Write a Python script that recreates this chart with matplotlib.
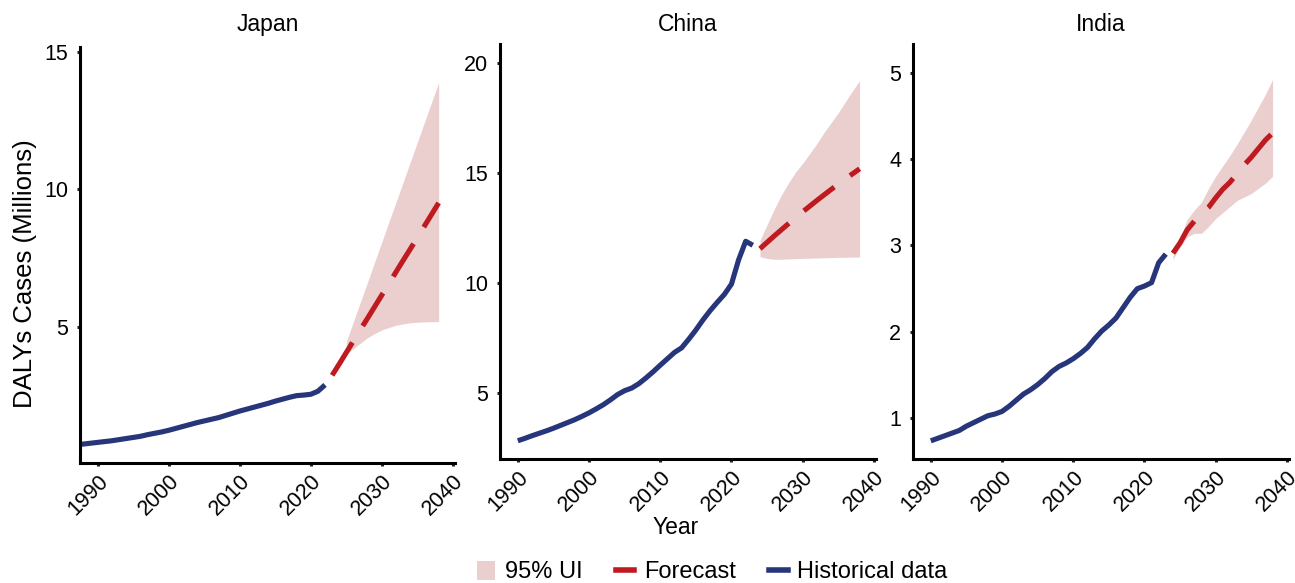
import numpy as np
import matplotlib
matplotlib.use('Agg')
import matplotlib.pyplot as plt
from matplotlib.patches import Patch
from matplotlib.lines import Line2D

plt.rcParams['font.family'] = ['Liberation Sans', 'DejaVu Sans']

# Historical DALYs (millions)
japan_hist_years = list(range(1987, 2023))
japan_hist = [0.70, 0.73, 0.76, 0.79, 0.82, 0.85, 0.89, 0.93, 0.97, 1.01,
              1.07, 1.12, 1.17, 1.23, 1.30, 1.37, 1.44, 1.51, 1.57, 1.63,
              1.69, 1.77, 1.85, 1.93, 2.00, 2.07, 2.14, 2.21, 2.29, 2.36,
              2.43, 2.49, 2.51, 2.54, 2.65, 2.88]

china_hist_years = list(range(1990, 2024))
china_hist = [2.82, 2.93, 3.05, 3.16, 3.27, 3.39, 3.52, 3.65, 3.78, 3.93,
              4.09, 4.27, 4.46, 4.68, 4.92, 5.10, 5.22, 5.42, 5.68, 5.96,
              6.26, 6.55, 6.84, 7.05, 7.44, 7.86, 8.32, 8.74, 9.12, 9.48,
              9.95, 11.05, 11.90, 11.72]

india_hist_years = list(range(1990, 2024))
india_hist = [0.74, 0.77, 0.80, 0.83, 0.86, 0.91, 0.95, 0.99, 1.03, 1.05,
              1.08, 1.14, 1.21, 1.28, 1.33, 1.39, 1.46, 1.54, 1.60, 1.64,
              1.69, 1.75, 1.82, 1.92, 2.01, 2.08, 2.16, 2.28, 2.40, 2.50,
              2.53, 2.57, 2.80, 2.90]

# Forecasts
japan_fc_years = list(range(2023, 2039))
japan_fc = [3.23, 3.64, 4.06, 4.48, 4.90, 5.31, 5.73, 6.15, 6.57, 6.99,
            7.41, 7.82, 8.24, 8.66, 9.08, 9.50]
japan_ui_years = list(range(2025, 2039))
japan_lo = [4.00, 4.20, 4.40, 4.60, 4.75, 4.88, 4.97, 5.05, 5.10, 5.14,
            5.16, 5.17, 5.18, 5.18]
japan_hi = [4.46, 5.18, 5.91, 6.63, 7.36, 8.08, 8.81, 9.53, 10.26, 10.98,
            11.71, 12.43, 13.16, 13.88]

china_fc_years = list(range(2024, 2039))
china_fc = [11.56, 11.85, 12.14, 12.42, 12.70, 12.98, 13.24, 13.50, 13.76,
            14.01, 14.26, 14.50, 14.74, 14.97, 15.20]
china_lo = [11.20, 11.12, 11.08, 11.08, 11.10, 11.11, 11.12, 11.13, 11.14,
            11.15, 11.16, 11.17, 11.17, 11.18, 11.18]
china_hi = [11.94, 12.65, 13.35, 14.00, 14.55, 15.05, 15.45, 15.90, 16.35,
            16.85, 17.30, 17.75, 18.25, 18.75, 19.21]

india_fc_years = list(range(2024, 2039))
india_fc = [2.91, 3.03, 3.18, 3.28, 3.37, 3.44, 3.55, 3.65, 3.73, 3.83,
            3.93, 4.02, 4.12, 4.22, 4.30]
india_lo = [2.84, 2.98, 3.10, 3.14, 3.14, 3.22, 3.31, 3.38, 3.45, 3.52,
            3.56, 3.60, 3.66, 3.72, 3.80]
india_hi = [2.88, 3.08, 3.30, 3.41, 3.50, 3.66, 3.80, 3.92, 4.04, 4.17,
            4.31, 4.45, 4.60, 4.75, 4.92]

blue = '#27357A'
red = '#BE1A20'
band = '#EBCFCF'

panels = [
    dict(name='Japan', rect=[80, 47, 455, 463], ylim=(0.04, 15.17), yticks=[5, 10, 15],
         hy=japan_hist_years, h=japan_hist, fy=japan_fc_years, f=japan_fc,
         uy=japan_ui_years, lo=japan_lo, hi=japan_hi),
    dict(name='China', rect=[500, 44, 876, 459], ylim=(1.99, 20.88), yticks=[5, 10, 15, 20],
         hy=china_hist_years, h=china_hist, fy=china_fc_years, f=china_fc,
         uy=china_fc_years, lo=china_lo, hi=china_hi),
    dict(name='India', rect=[913, 44, 1289, 459], ylim=(0.53, 5.33), yticks=[1, 2, 3, 4, 5],
         hy=india_hist_years, h=india_hist, fy=india_fc_years, f=india_fc,
         uy=india_fc_years, lo=india_lo, hi=india_hi),
]

W, H = 1295, 583
fig = plt.figure(figsize=(W / 100, H / 100), dpi=100)

for p in panels:
    x0, y0, x1, y1 = p['rect']
    ax = fig.add_axes([x0 / W, 1 - y1 / H, (x1 - x0) / W, (y1 - y0) / H])
    ax.fill_between(p['uy'], p['lo'], p['hi'], color=band, linewidth=0)
    ax.plot(p['fy'], p['f'], color=red, lw=3.7, dashes=(7.5, 3.8),
            dash_capstyle='butt')
    ax.plot(p['hy'], p['h'], color=blue, lw=3.7, solid_capstyle='butt')
    ax.set_xlim(1987.5, 2040.3)
    ax.set_ylim(*p['ylim'])
    ax.set_xticks([1990, 2000, 2010, 2020, 2030, 2040])
    ax.set_yticks(p['yticks'])
    for s in ['top', 'right']:
        ax.spines[s].set_visible(False)
    for s in ['left', 'bottom']:
        ax.spines[s].set_linewidth(2.2)
    ax.tick_params(axis='both', length=2.5, width=2.2, labelsize=15.5, color='#222222')
    ax.tick_params(axis='y', pad=6)
    ax.tick_params(axis='x', pad=3)
    for lab in ax.get_xticklabels():
        lab.set_rotation(45)
        lab.set_rotation_mode('anchor')
        lab.set_ha('right')
        lab.set_va('top')
    fig.text((x0 + x1) / 2 / W, 1 - 31 / H, p['name'], ha='center',
             va='baseline', fontsize=16.5)

fig.text(25 / W, 1 - 274 / H, 'DALYs Cases (Millions)', rotation=90,
         ha='center', va='center', fontsize=18.5)
fig.text(676 / W, 1 - 527 / H, 'Year', ha='center', va='center', fontsize=16.5)

handles = [Patch(facecolor=band, edgecolor='none', label='95% UI'),
           Line2D([], [], color=red, lw=4, label='Forecast'),
           Line2D([], [], color=blue, lw=4, label='Historical data')]
fig.legend(handles=handles, loc='center', bbox_to_anchor=(712 / W, 1 - 572 / H),
           ncol=3, frameon=False, fontsize=17, handlelength=0.8,
           handleheight=0.85, handletextpad=0.4, columnspacing=1.4,
           borderaxespad=0, borderpad=0)

fig.savefig('out.png', dpi=100)
